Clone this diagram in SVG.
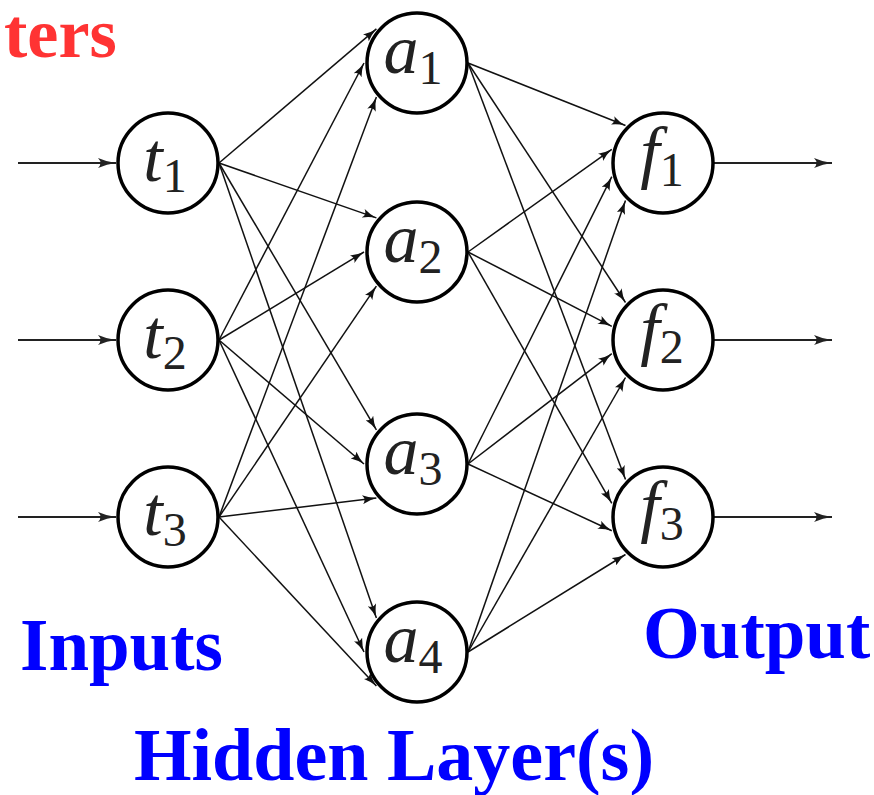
<svg xmlns="http://www.w3.org/2000/svg" width="874" height="795" viewBox="0 0 874 795">
<defs>
<style>
.c{fill:#fff;stroke:#000;stroke-width:3.5}
.e{stroke:#111;stroke-width:1.5;fill:none;marker-end:url(#ah)}
.io{stroke:#222;stroke-width:2;fill:none;marker-end:url(#ahb)}
</style>
<marker id="ah" viewBox="0 0 14 9" markerWidth="14" markerHeight="9" refX="14" refY="4.5" orient="auto" markerUnits="userSpaceOnUse">
<path d="M0,0 Q7,3.5 14,4.5 Q7,5.5 0,9 Q4,4.5 0,0 Z" fill="#111"/>
</marker>
<marker id="ahb" viewBox="0 0 18 10" markerWidth="18" markerHeight="10" refX="18" refY="5" orient="auto" markerUnits="userSpaceOnUse">
<path d="M0,0 Q9,4 18,5 Q9,6 0,10 Q5,5 0,0 Z" fill="#222"/>
</marker>
</defs>
<rect width="874" height="795" fill="#fff"/>
<g id="connectors">
<line class="io" x1="18" y1="163" x2="116" y2="163"/>
<line class="io" x1="18" y1="340" x2="116" y2="340"/>
<line class="io" x1="18" y1="517" x2="116" y2="517"/>
<line class="io" x1="714" y1="163" x2="832" y2="163"/>
<line class="io" x1="714" y1="340" x2="832" y2="340"/>
<line class="io" x1="714" y1="517" x2="832" y2="517"/>
<line class="e" x1="219" y1="163" x2="376.4" y2="28.9"/>
<line class="e" x1="219" y1="163" x2="376.4" y2="217.9"/>
<line class="e" x1="219" y1="163" x2="376.4" y2="429.9"/>
<line class="e" x1="219" y1="163" x2="376.4" y2="617.9"/>
<line class="e" x1="219" y1="340" x2="364" y2="63"/>
<line class="e" x1="219" y1="340" x2="364" y2="252"/>
<line class="e" x1="219" y1="340" x2="364" y2="464"/>
<line class="e" x1="219" y1="340" x2="364" y2="652"/>
<line class="e" x1="219" y1="517" x2="376.4" y2="97.1"/>
<line class="e" x1="219" y1="517" x2="376.4" y2="286.1"/>
<line class="e" x1="219" y1="517" x2="376.4" y2="498.1"/>
<line class="e" x1="219" y1="517" x2="376.4" y2="686.1"/>
<line class="e" x1="468" y1="63" x2="625.5" y2="125.5"/>
<line class="e" x1="468" y1="63" x2="625.5" y2="302.5"/>
<line class="e" x1="468" y1="63" x2="625.5" y2="479.5"/>
<line class="e" x1="468" y1="252" x2="611.8" y2="149.3"/>
<line class="e" x1="468" y1="252" x2="611.8" y2="326.3"/>
<line class="e" x1="468" y1="252" x2="611.8" y2="503.3"/>
<line class="e" x1="468" y1="464" x2="611.8" y2="176.7"/>
<line class="e" x1="468" y1="464" x2="611.8" y2="353.7"/>
<line class="e" x1="468" y1="464" x2="611.8" y2="530.7"/>
<line class="e" x1="468" y1="652" x2="625.5" y2="200.5"/>
<line class="e" x1="468" y1="652" x2="625.5" y2="377.5"/>
<line class="e" x1="468" y1="652" x2="625.5" y2="554.5"/>
</g>
<g font-family="Liberation Serif, Times New Roman, serif" font-size="70" fill="#222" text-anchor="middle">
<g id="t1"><circle class="c" cx="168" cy="163" r="50"/><text x="165" y="181" font-family="Liberation Serif" font-style="italic">t<tspan font-style="normal" font-size="48" dy="11">1</tspan></text></g>
<g id="t2"><circle class="c" cx="168" cy="340" r="50"/><text x="165" y="358" font-family="Liberation Serif" font-style="italic">t<tspan font-style="normal" font-size="48" dy="11">2</tspan></text></g>
<g id="t3"><circle class="c" cx="168" cy="517" r="50"/><text x="165" y="535" font-family="Liberation Serif" font-style="italic">t<tspan font-style="normal" font-size="48" dy="11">3</tspan></text></g>
<g id="a1"><circle class="c" cx="417" cy="63" r="50"/><text x="413" y="73" font-family="Liberation Serif" font-style="italic">a<tspan font-style="normal" font-size="48" dy="11">1</tspan></text></g>
<g id="a2"><circle class="c" cx="417" cy="252" r="50"/><text x="413" y="262" font-family="Liberation Serif" font-style="italic">a<tspan font-style="normal" font-size="48" dy="11">2</tspan></text></g>
<g id="a3"><circle class="c" cx="417" cy="464" r="50"/><text x="413" y="474" font-family="Liberation Serif" font-style="italic">a<tspan font-style="normal" font-size="48" dy="11">3</tspan></text></g>
<g id="a4"><circle class="c" cx="417" cy="652" r="50"/><text x="413" y="662" font-family="Liberation Serif" font-style="italic">a<tspan font-style="normal" font-size="48" dy="11">4</tspan></text></g>
<g id="f1"><circle class="c" cx="663" cy="163" r="50"/><text x="662" y="175" font-family="Liberation Serif" font-style="italic">f<tspan font-style="normal" font-size="48" dy="11">1</tspan></text></g>
<g id="f2"><circle class="c" cx="663" cy="340" r="50"/><text x="662" y="352" font-family="Liberation Serif" font-style="italic">f<tspan font-style="normal" font-size="48" dy="11">2</tspan></text></g>
<g id="f3"><circle class="c" cx="663" cy="517" r="50"/><text x="662" y="529" font-family="Liberation Serif" font-style="italic">f<tspan font-style="normal" font-size="48" dy="11">3</tspan></text></g>
</g>
<g id="labels" font-family="Liberation Serif" font-weight="bold">
<text x="4" y="57" font-size="70" fill="#ff3333">ters</text>
<text x="20" y="670" font-size="73" fill="#0000ff">Inputs</text>
<text x="643" y="658" font-size="73" fill="#0000ff">Output</text>
<text x="134" y="780" font-size="74" fill="#0000ff">Hidden Layer(s)</text>
</g>
</svg>
